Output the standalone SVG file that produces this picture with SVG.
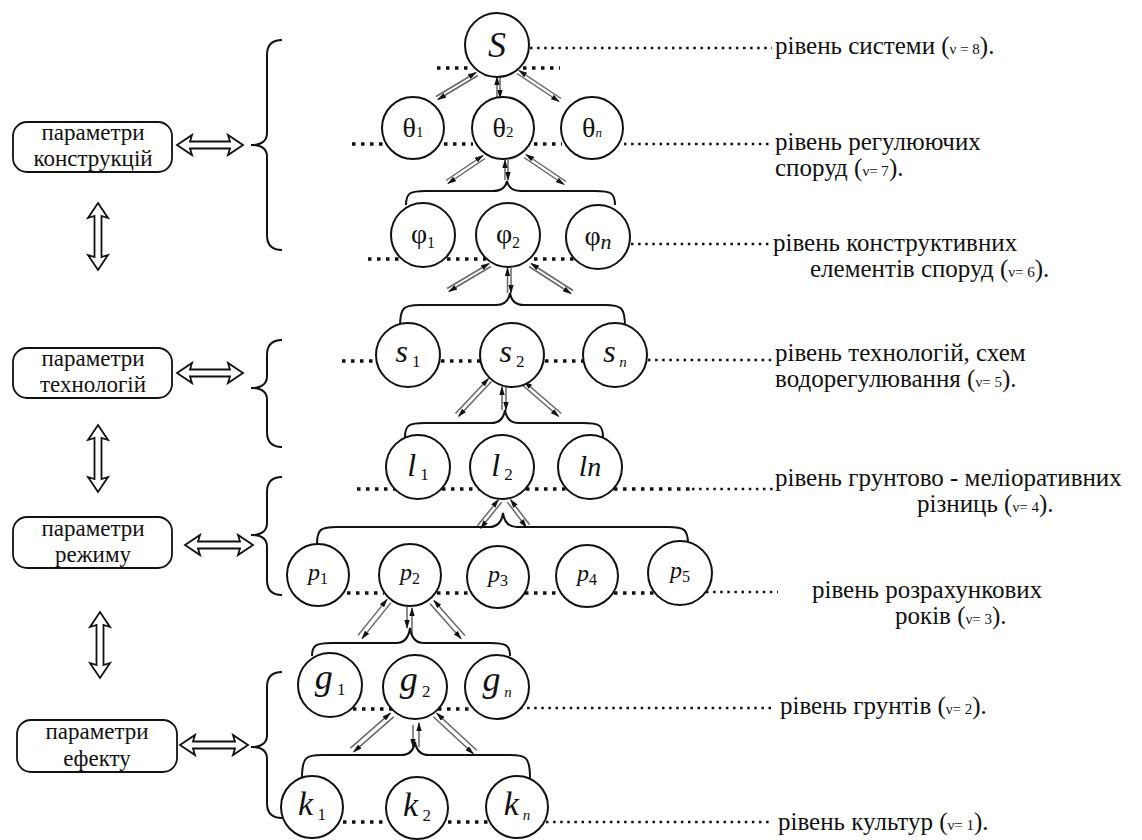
<svg xmlns="http://www.w3.org/2000/svg" width="1142" height="840" viewBox="0 0 1142 840" font-family="'Liberation Serif', 'DejaVu Serif', serif">
<style>
text{font-family:'Liberation Serif','DejaVu Serif',serif;fill:#111}
.nd circle{fill:#fff;stroke:#111;stroke-width:2}
.nd text{text-anchor:middle}
.it{font-style:italic}
.dot{stroke:#111;stroke-width:3.5;stroke-dasharray:3.5 5.5;fill:none}
.fdot{stroke:#111;stroke-width:2.5;stroke-dasharray:2.5 4.6;fill:none}
.lvl{font-size:25px}
.nu{font-size:15px}
.pr line{stroke:#666;stroke-width:1.5;marker-end:url(#ah)}
.br{fill:none;stroke:#111;stroke-width:2}
.dbl{fill:#fff;stroke:#111;stroke-width:1.8;stroke-linejoin:miter}
.box rect{fill:#fff;stroke:#111;stroke-width:1.8}
.box text{font-size:23px;text-anchor:middle}
</style>
<defs>
<marker id="ah" viewBox="0 0 10 6" refX="9" refY="3" markerWidth="9" markerHeight="5.4" markerUnits="userSpaceOnUse" orient="auto"><path d="M0,0 L10,3 L0,6 z" fill="#111"/></marker>
</defs>

<g id="dots">
<line class="dot" x1="437" y1="68" x2="472" y2="68"/>
<line class="dot" x1="523" y1="68" x2="560" y2="68"/>
<line class="fdot" x1="530" y1="48" x2="772" y2="48"/>

<line class="dot" x1="352" y1="144" x2="383" y2="144"/>
<line class="dot" x1="444" y1="144" x2="473" y2="144"/>
<line class="dot" x1="534" y1="144" x2="562" y2="144"/>
<line class="fdot" x1="624" y1="144" x2="772" y2="144"/>

<line class="dot" x1="368" y1="259" x2="402" y2="259"/>
<line class="dot" x1="447" y1="259" x2="486" y2="259"/>
<line class="dot" x1="534" y1="259" x2="574" y2="259"/>
<line class="fdot" x1="631" y1="244" x2="772" y2="244"/>

<line class="dot" x1="342" y1="361" x2="377" y2="361"/>
<line class="dot" x1="441" y1="361" x2="480" y2="361"/>
<line class="dot" x1="545" y1="361" x2="584" y2="361"/>
<line class="fdot" x1="648" y1="360" x2="772" y2="360"/>

<line class="dot" x1="357" y1="489" x2="395" y2="489"/>
<line class="dot" x1="442" y1="489" x2="479" y2="489"/>
<line class="dot" x1="526" y1="489" x2="567" y2="489"/>
<line class="dot" x1="614" y1="489" x2="690" y2="489"/>
<line class="fdot" x1="692" y1="489" x2="773" y2="489"/>

<line class="dot" x1="347" y1="593" x2="384" y2="593"/>
<line class="dot" x1="437" y1="593" x2="472" y2="593"/>
<line class="dot" x1="525" y1="593" x2="561" y2="593"/>
<line class="dot" x1="614" y1="593" x2="654" y2="593"/>
<line class="fdot" x1="706" y1="592" x2="778" y2="592"/>

<line class="dot" x1="353" y1="709" x2="393" y2="709"/>
<line class="dot" x1="438" y1="709" x2="475" y2="709"/>
<line class="fdot" x1="520" y1="708" x2="773" y2="708"/>

<line class="dot" x1="343" y1="822" x2="388" y2="822"/>
<line class="dot" x1="448" y1="822" x2="488" y2="822"/>
<line class="fdot" x1="546" y1="822" x2="773" y2="822"/>
</g>

<g id="connectors">
<g class="pr">
<line x1="477.9" y1="75.5" x2="437.9" y2="99.5"/><line x1="436.1" y1="96.5" x2="476.1" y2="72.5"/>
<line x1="500" y1="77" x2="500" y2="98"/><line x1="497" y1="98" x2="497" y2="77"/>
<line x1="517" y1="73.5" x2="559" y2="101.5"/><line x1="561" y1="98.5" x2="519" y2="70.5"/>

<line x1="485" y1="158.5" x2="448" y2="183.5"/><line x1="446" y1="180.5" x2="483" y2="155.5"/>
<line x1="508" y1="160" x2="508" y2="180"/><line x1="505" y1="180" x2="505" y2="160"/>
<line x1="524" y1="157.5" x2="564" y2="184.5"/><line x1="566" y1="181.5" x2="526" y2="154.5"/>

<line x1="490.9" y1="266.5" x2="448.9" y2="291.5"/><line x1="447.1" y1="288.5" x2="489.1" y2="263.5"/>
<line x1="511" y1="268" x2="511" y2="293"/><line x1="507.5" y1="293" x2="507.5" y2="268"/>
<line x1="529" y1="266.5" x2="571" y2="293.5"/><line x1="573" y1="290.5" x2="531" y2="263.5"/>

<line x1="491.5" y1="381.4" x2="458.5" y2="416.4"/><line x1="455.5" y1="413.6" x2="488.5" y2="378.6"/>
<line x1="506" y1="387" x2="506" y2="410"/><line x1="502" y1="410" x2="502" y2="387"/>
<line x1="521.7" y1="384.5" x2="558.7" y2="416.5"/><line x1="561.3" y1="413.5" x2="524.3" y2="381.5"/>

<line x1="501.6" y1="502.3" x2="480.6" y2="528.3"/><line x1="477.4" y1="525.7" x2="498.4" y2="499.7"/>
<line x1="507.4" y1="502.2" x2="526.4" y2="527.2"/><line x1="529.6" y1="524.8" x2="510.6" y2="499.8"/>

<line x1="391" y1="602.6" x2="362" y2="638.6"/><line x1="358" y1="635.4" x2="387" y2="599.4"/>
<line x1="407" y1="607" x2="407" y2="628"/><line x1="412" y1="635" x2="412" y2="608"/>
<line x1="430.1" y1="603.7" x2="461.1" y2="638.7"/><line x1="464.9" y1="635.4" x2="433.9" y2="600.4"/>

<line x1="393.7" y1="716.9" x2="353.7" y2="751.9"/><line x1="350.4" y1="748.1" x2="390.4" y2="713.1"/>
<line x1="413" y1="725" x2="413" y2="747"/><line x1="419" y1="747" x2="419" y2="723"/>
<line x1="433.3" y1="716.8" x2="473.3" y2="753.8"/><line x1="476.7" y1="750.2" x2="436.7" y2="713.2"/>
</g>
<g id="braces">
<path class="br" d="M406,205 C406,193 410,191 426,191 L493,191 Q505,191 507,181 Q509,191 521,191 L595,191 C611,191 615,193 615,205"/>
<path class="br" d="M400,327 C400,307 404,305 420,305 L496,305 Q508,305 510,293 Q512,305 524,305 L605,305 C621,305 625,307 625,327"/>
<path class="br" d="M405,437 C405,425 409,423 425,423 L491,423 Q503,423 505,410 Q507,423 519,423 L583,423 C599,423 603,425 603,437"/>
<path class="br" d="M317,544 C317,529 321,527 337,527 L489,527 Q501,527 503,513 Q505,527 517,527 L668,527 C684,527 688,529 688,544"/>
<path class="br" d="M312,656 C312,645 316,643 332,643 L396,643 Q408,643 410,628 Q412,643 424,643 L490,643 C506,643 510,645 510,656"/>
<path class="br" d="M302,778 C302,757 306,755 322,755 L401,755 Q413,755 415,742 Q417,755 429,755 L510,755 C526,755 530,757 530,778"/>

<path class="br" d="M282,40 Q267,40 267,55 L267,133 Q267,145 251,145 Q267,145 267,157 L267,235 Q267,250 282,250"/>
<path class="br" d="M282,340 Q267,340 267,355 L267,376 Q267,388 251,388 Q267,388 267,400 L267,432 Q267,447 282,447"/>
<path class="br" d="M282,477 Q267,477 267,492 L267,523 Q267,535 251,535 Q267,535 267,547 L267,580 Q267,595 282,595"/>
<path class="br" d="M282,672 Q267,672 267,687 L267,735 Q267,747 251,747 Q267,747 267,759 L267,803 Q267,818 282,818"/>
</g>
<g id="bigarrows">
<path class="dbl" d="M177,145 L192,135 L190,141.5 L230,141.5 L228,135 L243,145 L228,155 L230,148.5 L190,148.5 L192,155 Z"/>
<path class="dbl" d="M177,373 L192,363 L190,369.5 L230,369.5 L228,363 L243,373 L228,383 L230,376.5 L190,376.5 L192,383 Z"/>
<path class="dbl" d="M185,545 L200,535 L198,541.5 L240,541.5 L238,535 L253,545 L238,555 L240,548.5 L198,548.5 L200,555 Z"/>
<path class="dbl" d="M180,745 L195,735 L193,741.5 L235,741.5 L233,735 L248,745 L233,755 L235,748.5 L193,748.5 L195,755 Z"/>
<path class="dbl" d="M98,203 L108,218 L101.5,216 L101.5,257 L108,255 L98,270 L88,255 L94.5,257 L94.5,216 L88,218 Z"/>
<path class="dbl" d="M98,425 L108,440 L101.5,438 L101.5,479 L108,477 L98,492 L88,477 L94.5,479 L94.5,438 L88,440 Z"/>
<path class="dbl" d="M100,612 L110,627 L103.5,625 L103.5,665 L110,663 L100,678 L90,663 L96.5,665 L96.5,625 L90,627 Z"/>
</g>
</g>

<g id="box-konstr" class="box"><rect x="13" y="122" width="159" height="50" rx="14"/><text x="93" y="140">параметри</text><text x="93" y="166">конструкцій</text></g>
<g id="box-tech" class="box"><rect x="13" y="348" width="159" height="50" rx="14"/><text x="93" y="366">параметри</text><text x="93" y="392">технологій</text></g>
<g id="box-rezh" class="box"><rect x="13" y="517" width="159" height="51" rx="14"/><text x="93" y="536">параметри</text><text x="93" y="562">режиму</text></g>
<g id="box-efekt" class="box"><rect x="17" y="720" width="160" height="52" rx="14"/><text x="97" y="739">параметри</text><text x="97" y="766">ефекту</text></g>

<g id="n-S" class="nd"><circle cx="497" cy="45" r="32"/><text x="497" y="57" class="it" font-size="36">S</text></g>
<g id="n-t1" class="nd"><circle cx="413" cy="128" r="31"/><text x="413" y="137"><tspan font-size="28">θ</tspan><tspan font-size="15">1</tspan></text></g>
<g id="n-t2" class="nd"><circle cx="503" cy="128" r="31"/><text x="503" y="137"><tspan font-size="28">θ</tspan><tspan font-size="15">2</tspan></text></g>
<g id="n-tn" class="nd"><circle cx="592" cy="128" r="31"/><text x="592" y="137"><tspan font-size="28">θ</tspan><tspan font-size="13" class="it">n</tspan></text></g>

<g id="n-f1" class="nd"><circle cx="423" cy="235" r="32"/><text x="423" y="243"><tspan font-size="28">φ</tspan><tspan font-size="16" dy="5">1</tspan></text></g>
<g id="n-f2" class="nd"><circle cx="508" cy="235" r="32"/><text x="508" y="243"><tspan font-size="28">φ</tspan><tspan font-size="16" dy="5">2</tspan></text></g>
<g id="n-fn" class="nd"><circle cx="598" cy="237" r="32"/><text x="598" y="245"><tspan font-size="28">φ</tspan><tspan font-size="22" dy="4" class="it">n</tspan></text></g>

<g id="n-s1" class="nd"><circle cx="408" cy="355" r="32"/><text x="408" y="362"><tspan font-size="32" class="it">s</tspan><tspan font-size="17" dy="5"> 1</tspan></text></g>
<g id="n-s2" class="nd"><circle cx="512" cy="355" r="32"/><text x="512" y="362"><tspan font-size="32" class="it">s</tspan><tspan font-size="17" dy="5"> 2</tspan></text></g>
<g id="n-sn" class="nd"><circle cx="615" cy="355" r="32"/><text x="615" y="362"><tspan font-size="32" class="it">s</tspan><tspan font-size="15" dy="5" class="it"> n</tspan></text></g>

<g id="n-l1" class="nd"><circle cx="418" cy="467" r="32"/><text x="418" y="476"><tspan font-size="32" class="it">l</tspan><tspan font-size="17" dy="4"> 1</tspan></text></g>
<g id="n-l2" class="nd"><circle cx="502" cy="467" r="32"/><text x="502" y="476"><tspan font-size="32" class="it">l</tspan><tspan font-size="17" dy="4"> 2</tspan></text></g>
<g id="n-ln" class="nd"><circle cx="590" cy="467" r="32"/><text x="590" y="476"><tspan font-size="30" class="it">l</tspan><tspan font-size="28" class="it">n</tspan></text></g>

<g id="n-p1" class="nd"><circle cx="318" cy="575" r="31"/><text x="318" y="580"><tspan font-size="24" class="it">p</tspan><tspan font-size="16" dy="4">1</tspan></text></g>
<g id="n-p2" class="nd"><circle cx="410" cy="575" r="31"/><text x="410" y="580"><tspan font-size="24" class="it">p</tspan><tspan font-size="16" dy="4">2</tspan></text></g>
<g id="n-p3" class="nd"><circle cx="498" cy="577" r="31"/><text x="498" y="582"><tspan font-size="24" class="it">p</tspan><tspan font-size="16" dy="4">3</tspan></text></g>
<g id="n-p4" class="nd"><circle cx="587" cy="576" r="31"/><text x="587" y="581"><tspan font-size="24" class="it">p</tspan><tspan font-size="16" dy="4">4</tspan></text></g>
<g id="n-p5" class="nd"><circle cx="680" cy="573" r="32"/><text x="680" y="578"><tspan font-size="24" class="it">p</tspan><tspan font-size="16" dy="4">5</tspan></text></g>

<g id="n-g1" class="nd"><circle cx="330" cy="685" r="32"/><text x="330" y="689"><tspan font-size="36" class="it">g</tspan><tspan font-size="17" dy="6"> 1</tspan></text></g>
<g id="n-g2" class="nd"><circle cx="415" cy="687" r="32"/><text x="415" y="691"><tspan font-size="36" class="it">g</tspan><tspan font-size="17" dy="6"> 2</tspan></text></g>
<g id="n-gn" class="nd"><circle cx="497" cy="687" r="32"/><text x="497" y="691"><tspan font-size="36" class="it">g</tspan><tspan font-size="15" dy="6" class="it"> n</tspan></text></g>

<g id="n-k1" class="nd"><circle cx="312" cy="807" r="31"/><text x="312" y="815"><tspan font-size="34" class="it">k</tspan><tspan font-size="17" dy="5"> 1</tspan></text></g>
<g id="n-k2" class="nd"><circle cx="417" cy="808" r="31"/><text x="417" y="816"><tspan font-size="34" class="it">k</tspan><tspan font-size="17" dy="5"> 2</tspan></text></g>
<g id="n-kn" class="nd"><circle cx="517" cy="807" r="31"/><text x="517" y="815"><tspan font-size="34" class="it">k</tspan><tspan font-size="15" dy="5" class="it"> n</tspan></text></g>

<g id="levels" class="lvl">
<text x="775" y="54">рівень системи (<tspan class="nu">ν = 8</tspan>).</text>
<text x="775" y="150">рівень регулюючих</text>
<text x="775" y="176">споруд (<tspan class="nu">ν= 7</tspan>).</text>
<text x="773" y="251">рівень конструктивних</text>
<text x="810" y="277">елементів споруд (<tspan class="nu">ν= 6</tspan>).</text>
<text x="775" y="361">рівень технологій, схем</text>
<text x="775" y="387">водорегулювання (<tspan class="nu">ν= 5</tspan>).</text>
<text x="775" y="486">рівень грунтово - меліоративних</text>
<text x="917" y="512">різниць (<tspan class="nu">ν= 4</tspan>).</text>
<text x="812" y="598">рівень розрахункових</text>
<text x="895" y="624">років (<tspan class="nu">ν= 3</tspan>).</text>
<text x="780" y="714">рівень грунтів (<tspan class="nu">ν= 2</tspan>).</text>
<text x="778" y="830">рівень культур (<tspan class="nu">ν= 1</tspan>).</text>
</g>
</svg>
